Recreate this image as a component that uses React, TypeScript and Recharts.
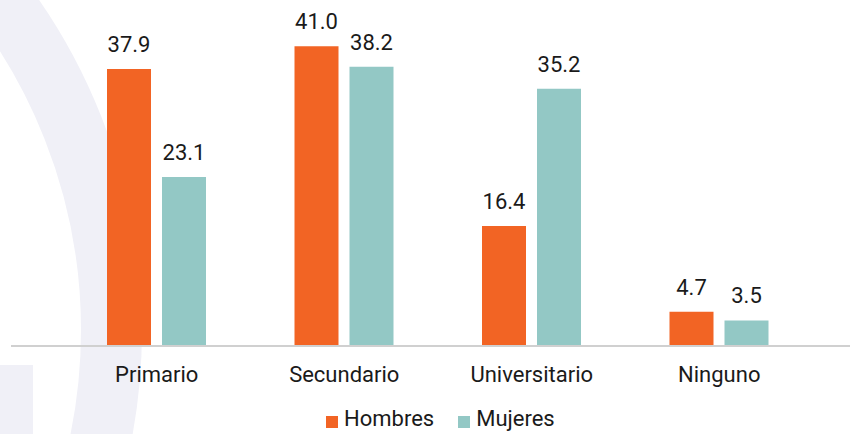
import { BarChart, Bar, XAxis, YAxis, LabelList, Legend } from 'recharts'

const categories = ['Primario', 'Secundario', 'Universitario', 'Ninguno']
const hombres = [37.9, 41.0, 16.4, 4.7]
const mujeres = [23.1, 38.2, 35.2, 3.5]
const seriesNames = ['Hombres', 'Mujeres']
const seriesColors = ['#F26424', '#93C8C5']

const data = categories.map((c, i) => ({
  categoria: c,
  hombres: hombres[i],
  mujeres: mujeres[i],
}))

const FONT = 'Roboto, "Noto Sans", sans-serif'
const TEXT = '#1a1a1a'

function fmt(v: unknown) {
  return typeof v === 'number' ? v.toFixed(1) : String(v ?? '')
}

function LegendBox() {
  return (
    <div style={{ display: 'flex', alignItems: 'flex-start', fontFamily: FONT, fontSize: 22, lineHeight: '26px', color: TEXT }}>
      {seriesNames.map((name, i) => (
        <div key={name} style={{ display: 'flex', alignItems: 'flex-start', marginRight: i === 0 ? 24 : 0 }}>
          <span
            style={{
              display: 'inline-block',
              width: 12,
              height: 12,
              marginTop: 10,
              marginRight: 6,
              background: seriesColors[i],
            }}
          />
          <span>{name}</span>
        </div>
      ))}
    </div>
  )
}

export default function App() {
  return (
    <div style={{ position: 'absolute', left: 0, top: 0, width: 850, height: 434, overflow: 'hidden', background: '#fff' }}>
      {/* faint watermark behind the chart */}
      <svg width={850} height={434} style={{ position: 'absolute', left: 0, top: 0 }}>
        <circle cx={-438} cy={330} r={549.5} fill="none" stroke="#f0f0f7" strokeWidth={61} />
        <rect x={0} y={365} width={33} height={69} fill="#f0f0f7" />
      </svg>
      <div style={{ position: 'absolute', left: 0, top: 0 }}>
        <BarChart
          width={850}
          height={434}
          data={data}
          margin={{ top: 17, right: 0, bottom: 0, left: 11 }}
          barSize={44}
          barGap={11}
        >
          <XAxis
            dataKey="categoria"
            height={88}
            padding={{ left: 52, right: 37 }}
            axisLine={{ stroke: '#d0d0d0', strokeWidth: 2 }}
            tickLine={false}
            tickSize={0}
            tickMargin={20}
            tick={{ fontSize: 22, fill: TEXT, fontFamily: FONT }}
            interval={0}
          />
          <YAxis hide domain={[0, 45]} />
          <Legend
            verticalAlign="middle"
            align="center"
            content={<LegendBox />}
            wrapperStyle={{ top: 406, left: 326, width: 'auto' }}
          />
          <Bar dataKey="hombres" name={seriesNames[0]} fill={seriesColors[0]} isAnimationActive={false}>
            <LabelList
              dataKey="hombres"
              position="top"
              offset={17}
              formatter={fmt}
              style={{ fontSize: 22, fill: TEXT, fontFamily: FONT }}
            />
          </Bar>
          <Bar dataKey="mujeres" name={seriesNames[1]} fill={seriesColors[1]} isAnimationActive={false}>
            <LabelList
              dataKey="mujeres"
              position="top"
              offset={17}
              formatter={fmt}
              style={{ fontSize: 22, fill: TEXT, fontFamily: FONT }}
            />
          </Bar>
        </BarChart>
      </div>
    </div>
  )
}
